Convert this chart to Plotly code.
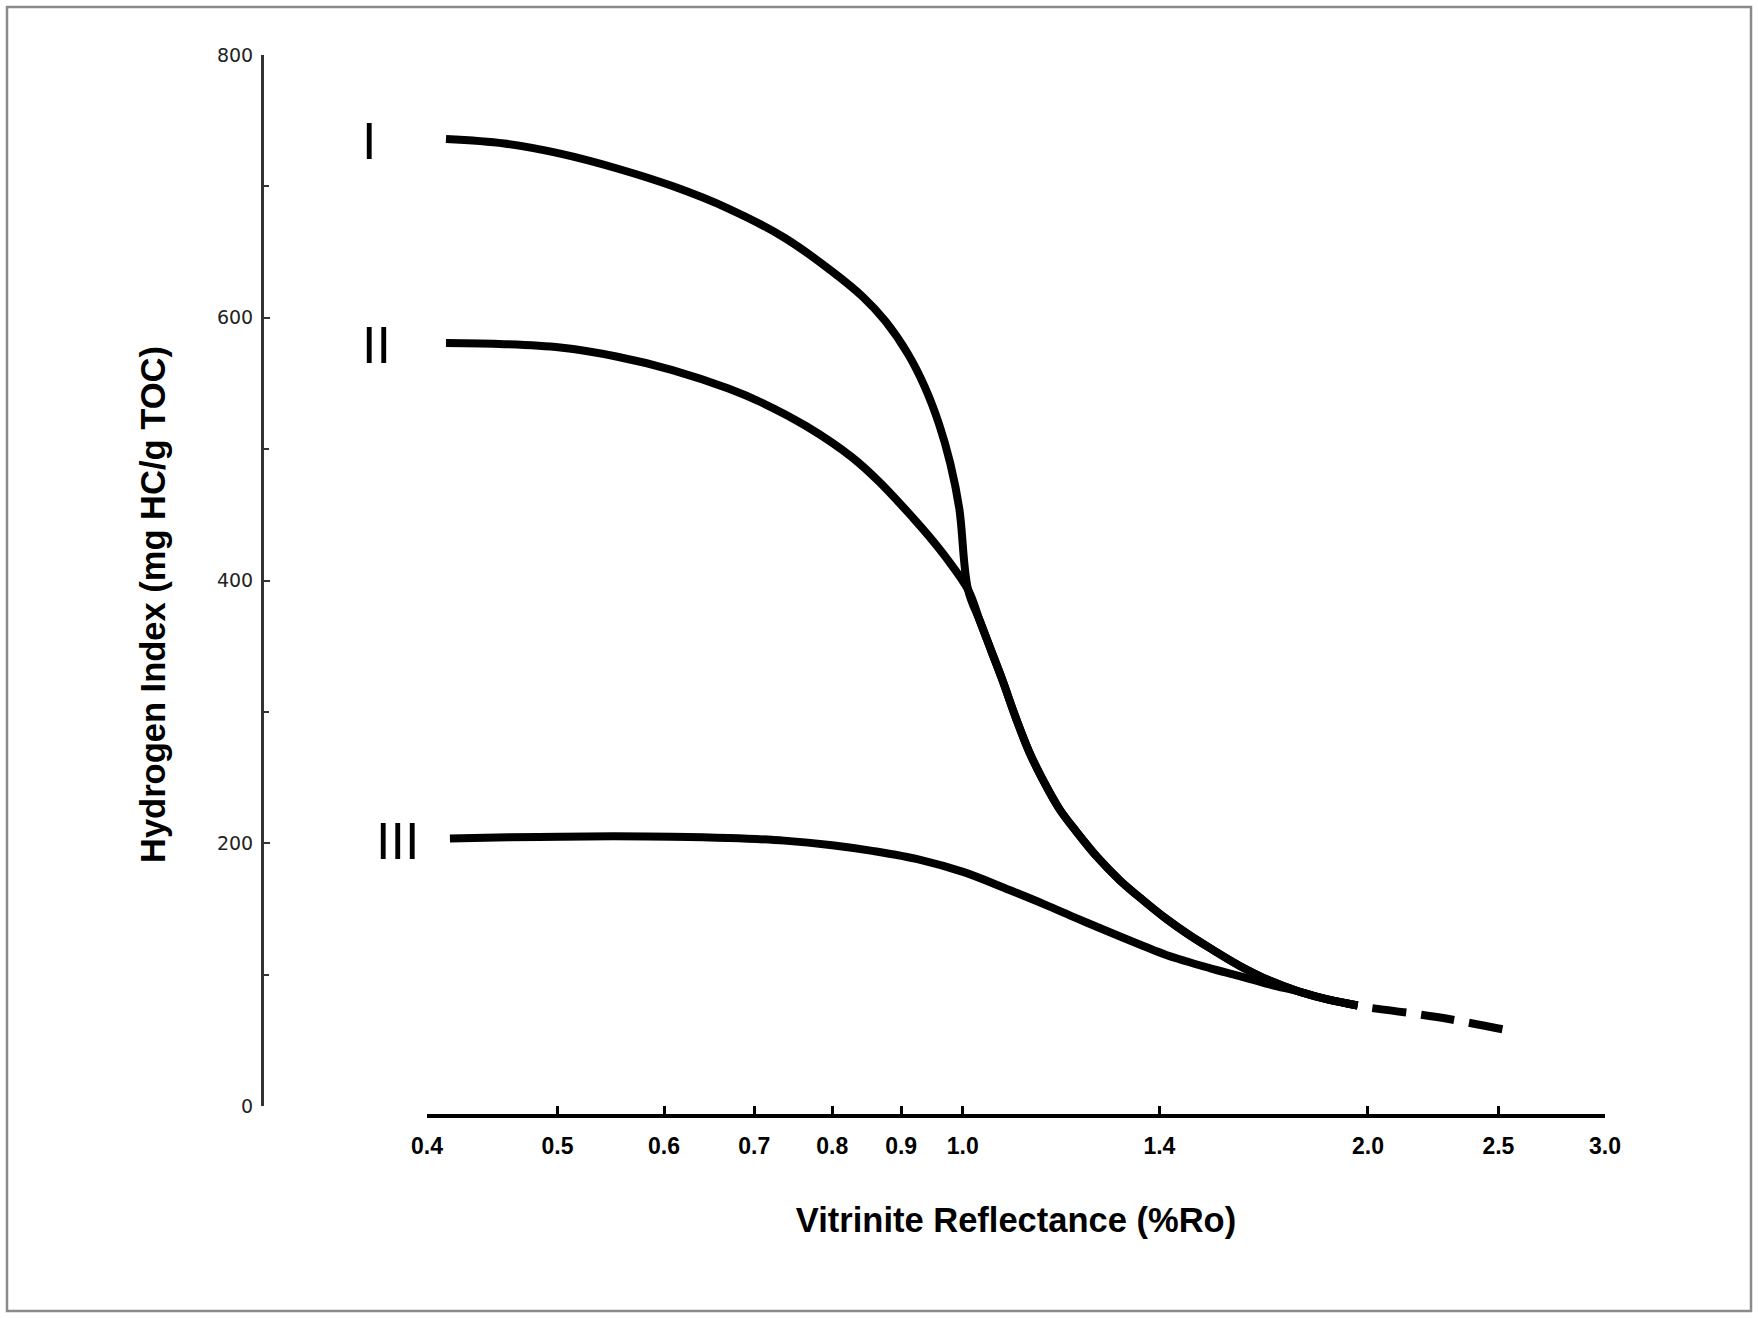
import numpy as np
import plotly.graph_objects as go

# ---- data (Ro %, Hydrogen Index mg HC/g TOC) ----
ro_I = [0.4132, 0.4566, 0.5024, 0.5529, 0.6086, 0.6698, 0.7372, 0.7959, 0.8430, 0.8760, 0.9102,
        0.9368, 0.9604, 0.9790, 0.9941]
hi_I = [736, 732.6, 724.9, 713.8, 700.2, 683.1, 660.9, 636.9, 615.9, 597.5, 572.8,
        547.8, 519, 489.1, 455]

ro_II = [0.4132, 0.4566, 0.5024, 0.5529, 0.6086, 0.6698, 0.7095, 0.7660, 0.8270, 0.8678, 0.9186,
         0.9452, 0.9726]
hi_II = [580.7, 579.9, 577.3, 570.5, 560.2, 546.1, 535.3, 517.2, 494, 474.7, 447.6,
         433, 417]

ro_III = [0.416, 0.46, 0.502, 0.55, 0.608, 0.67, 0.737, 0.8, 0.859, 0.93, 1.002, 1.082, 1.15, 1.2144,
          1.264, 1.362, 1.4164, 1.5256, 1.604, 1.69]
hi_III = [203.6, 204.5, 205, 205.3, 205, 204, 202, 198.5, 194, 187.4, 178, 164.6, 153.5, 143,
          135.5, 121.8, 115, 105, 99, 92.5]

# common trend of types I and II after they join
ro_shared = [1.0092, 1.03, 1.05, 1.07, 1.0964, 1.12, 1.146, 1.18, 1.2144, 1.26, 1.3077, 1.36, 1.4164,
             1.47, 1.5256, 1.604, 1.69]
hi_shared = [393, 369, 346.5, 324.5, 294, 270, 249, 226, 209, 189, 172, 157, 142.5,
             130.8, 120.3, 107, 95.5]

# common tail of all three types (solid)
ro_tail = [1.779, 1.87, 1.965]
hi_tail = [87, 80.9, 76.5]

# extrapolated (dashed) part
ro_ext = [2.015, 2.25, 2.53]
hi_ext = [74.5, 67.7, 58]

x_ticks = [0.4, 0.5, 0.6, 0.7, 0.8, 0.9, 1.0, 1.4, 2.0, 2.5, 3.0]
x_ticktext = ["0.4", "0.5", "0.6", "0.7", "0.8", "0.9", "1.0", "1.4", "2.0", "2.5", "3.0"]
type_labels = ["I", "II", "III"]

# ---- geometry (pixels) ----
W, H = 1758, 1318
ml, mr, mt, mb = 262, 153, 55, 202
pw, ph = W - ml - mr, H - mt - mb
x_dom0 = (427 - ml) / pw
y_dom0 = (1116 - 1106) / ph

FONT = "Liberation Sans, Arial, sans-serif"
LW = 8

fig = go.Figure()

series = [
    (ro_I + ro_shared + ro_tail, hi_I + hi_shared + hi_tail),
    (ro_II + ro_shared + ro_tail, hi_II + hi_shared + hi_tail),
    (ro_III + ro_tail, hi_III + hi_tail),
]
for xs, ys in series:
    fig.add_trace(go.Scatter(x=xs, y=ys, mode="lines",
                             line=dict(color="black", width=LW, shape="spline", smoothing=1.0),
                             hoverinfo="skip"))

fig.add_trace(go.Scatter(x=ro_ext, y=hi_ext, mode="lines",
                         line=dict(color="black", width=LW, dash="34px,15px", shape="spline"),
                         hoverinfo="skip"))

# type labels placed left of each curve start
starts = [(ro_I[0], hi_I[0], -77), (ro_II[0], hi_II[0], -69), (ro_III[0], hi_III[0], -52)]
annotations = []
for lab, (rx, hy, xs) in zip(type_labels, starts):
    annotations.append(dict(x=np.log10(rx), y=hy, xref="x", yref="y", text=lab, showarrow=False,
                            xshift=xs, yshift=-2, xanchor="center", yanchor="middle",
                            font=dict(family=FONT, size=52, color="black")))

annotations.append(dict(x=(153 - ml) / pw, y=(1116 - 605) / ph, xref="paper", yref="paper",
                        text="<b>Hydrogen Index (mg HC/g TOC)</b>", textangle=-90, showarrow=False,
                        xanchor="center", yanchor="middle",
                        font=dict(family=FONT, size=34.5, color="black")))

fig.update_layout(
    width=W, height=H,
    margin=dict(l=ml, r=mr, t=mt, b=mb, autoexpand=False),
    paper_bgcolor="white", plot_bgcolor="white",
    showlegend=False,
    annotations=annotations,
    xaxis=dict(
        type="log", range=[np.log10(0.4), np.log10(3.0)], domain=[x_dom0, 1],
        anchor="free", position=0,
        showline=True, linecolor="black", linewidth=3.5,
        ticks="inside", ticklen=8, tickwidth=3, tickcolor="black",
        tickmode="array", tickvals=x_ticks, ticktext=x_ticktext,
        tickfont=dict(family=FONT, size=23, color="black", weight="bold"),
        ticklabelstandoff=9,
        showgrid=False, zeroline=False,
        title=dict(text="<b>Vitrinite Reflectance (%Ro)</b>", standoff=49,
                   font=dict(family=FONT, size=34.5, color="black")),
    ),
    yaxis=dict(
        range=[0, 800], domain=[y_dom0, 1],
        anchor="free", position=0,
        showline=True, linecolor="#333333", linewidth=3,
        ticks="inside", ticklen=6, tickwidth=2, tickcolor="#333333",
        tickmode="linear", tick0=0, dtick=200,
        minor=dict(ticks="inside", dtick=100, tick0=0, ticklen=5, tickwidth=2, tickcolor="#333333", showgrid=False),
        tickfont=dict(family="DejaVu Sans", size=19, color="#222222"),
        ticklabelstandoff=4,
        showgrid=False, zeroline=False,
    ),
    shapes=[dict(type="rect", xref="paper", yref="paper",
                 x0=(7 - ml) / pw, x1=(1751 - ml) / pw,
                 y0=(1116 - 1311) / ph, y1=(1116 - 7) / ph,
                 line=dict(color="#8a8a8a", width=2.5), fillcolor="rgba(0,0,0,0)")],
)

fig.write_html("out.html", config={"displayModeBar": False},
               post_script="document.body.style.margin='0px';")
